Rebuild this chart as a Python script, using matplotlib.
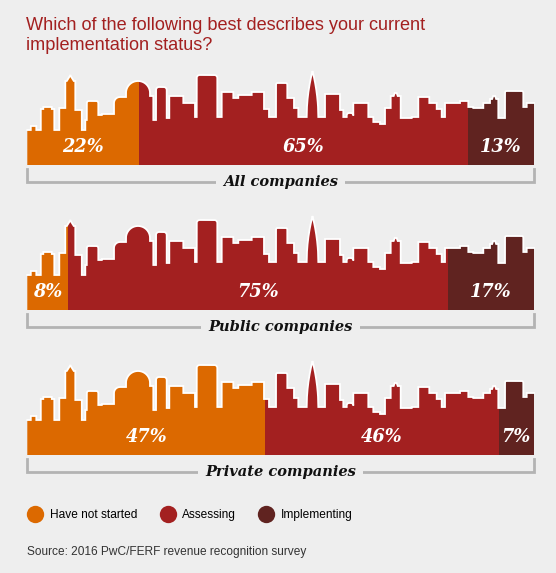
"""Implementation status skyline infographic (PwC/FERF survey)."""
import numpy as np
import matplotlib
matplotlib.use("Agg")
import matplotlib.pyplot as plt
from matplotlib.patches import Polygon, Rectangle
from matplotlib.lines import Line2D

# ---- data -------------------------------------------------------------
GROUPS = ["All companies", "Public companies", "Private companies"]
STATUSES = ["Have not started", "Assessing", "Implementing"]
HAVE_NOT_STARTED = [22, 8, 47]
ASSESSING = [65, 75, 46]
IMPLEMENTING = [13, 17, 7]

TITLE = "Which of the following best describes your current\nimplementation status?"
SOURCE = "Source: 2016 PwC/FERF revenue recognition survey"

COLORS = ["#DC6900", "#A32020", "#602320"]
BG = "#EEEEEE"

# skyline silhouette (decoration): (x0, x1, height[, kind, top]) in px
SKYLINE = [
    (0, 3.5, 35), (3.5, 9, 39), (9, 13.5, 35), (13.5, 16, 56), (16, 24.5, 58),
    (24.5, 27, 56), (27, 32, 35), (32, 38, 57), (38, 48, 84, "tower", 90),
    (48, 54.5, 55), (54.5, 58, 35), (58, 59.5, 45), (59.5, 71, 64, "round", 2),
    (71, 74.5, 50), (74.5, 86.7, 51), (86.7, 98.7, 68, "lround", 6),
    (98.7, 122.7, 72, "dome", 84), (122.7, 126, 69), (126, 128.7, 45),
    (128.7, 139.4, 78, "round", 3), (139.4, 142, 47), (142, 156, 69),
    (156, 167.7, 62), (167.7, 169.4, 48), (169.4, 190, 90, "round", 3),
    (190, 194.4, 48), (194.4, 206, 73), (206, 211, 67), (211, 224.4, 70),
    (224.4, 236.7, 73), (236.7, 241.7, 56), (241.7, 248.7, 48),
    (248.7, 260, 82, "round", 1.5), (260, 266.7, 67), (266.7, 271, 57),
    (271, 279.4, 48), (279.4, 291, 48, "spire", 94), (291, 297.7, 48),
    (297.7, 312.7, 71), (312.7, 316, 55), (316, 319.4, 48),
    (319.4, 326, 52, "round", 2.5), (326, 341, 62), (341, 346, 48),
    (346, 352.7, 43), (352.7, 357.7, 41), (357.7, 363.4, 57),
    (363.4, 373.4, 69, "peak", 72), (373.4, 384.4, 47), (384.4, 391, 48),
    (391, 402, 68), (402, 409.4, 62), (409.4, 414.4, 56), (414.4, 417.7, 48),
    (417.7, 432.7, 62), (432.7, 441, 64), (441, 446, 58), (446, 456, 57),
    (456, 462.7, 62), (462.7, 471, 66, "peak", 69), (471, 477.7, 47),
    (477.7, 496, 74, "round", 1.5), (496, 499.4, 58), (499.4, 506.7, 62),
]
SKY_WIDTH = 506.7

# ---- layout (pixels) ----------------------------------------------------
W, H = 556, 573
BAND_LEFT, BAND_RIGHT = 27.3, 534.0
ROW_BASES = [165, 310, 455]


def skyline_profile(left, width):
    s = width / SKY_WIDTH
    xs, hs = [], []
    for step in SKYLINE:
        x0, x1, h = step[:3]
        kind = step[3] if len(step) > 3 else "flat"
        if kind == "flat":
            px, ph = [x0, x1], [h, h]
        elif kind in ("round", "lround"):
            r = step[4]
            a = np.linspace(np.pi, np.pi / 2, 8)
            px = list(x0 + r + r * np.cos(a))
            ph = list(h - r + r * np.sin(a))
            if kind == "round":
                a = np.linspace(np.pi / 2, 0, 8)
                px += list(x1 - r + r * np.cos(a))
                ph += list(h - r + r * np.sin(a))
            else:
                px += [x1]
                ph += [h]
            px = [x0] + px
            ph = [h - r] + ph
        elif kind == "dome":
            top = step[4]
            a = np.linspace(np.pi, 0, 30)
            c, rx = (x0 + x1) / 2, (x1 - x0) / 2
            px = [x0] + list(c + rx * np.cos(a)) + [x1]
            ph = [h] + list(h + (top - h) * np.sin(a)) + [h]
        elif kind == "spire":
            top = step[4]
            t = np.linspace(-1, 1, 41)
            px = list((x0 + x1) / 2 + t * (x1 - x0) / 2)
            ph = list(h + (top - h) * (1 - np.abs(t)) ** 0.5)
        elif kind == "tower":
            top = step[4]
            c = (x0 + x1) / 2
            px = [x0, x0 + 1.5, c - 1, c, c + 1, x1 - 1.5, x1]
            ph = [h, h, top - 2, top, top - 2, h, h]
        elif kind == "peak":
            top = step[4]
            c = (x0 + x1) / 2
            px = [x0, c - 2, c - 1, c + 1, c + 2, x1]
            ph = [h, h, top, top, h, h]
        xs += px
        hs += ph
    return left + np.array(xs) * s, np.array(hs)


fig = plt.figure(figsize=(W / 100, H / 100), dpi=100, facecolor=BG)
ax = fig.add_axes([0, 0, 1, 1])
ax.set_xlim(0, W)
ax.set_ylim(H, 0)
ax.set_facecolor(BG)
ax.axis("off")

ax.text(26, 17, TITLE, color="#A32020", fontsize=13.1, family="Liberation Sans",
        va="top", ha="left", linespacing=1.2)

band_w = BAND_RIGHT - BAND_LEFT
values = np.array([HAVE_NOT_STARTED, ASSESSING, IMPLEMENTING]).T

for group, vals, base in zip(GROUPS, values, ROW_BASES):
    px, ph = skyline_profile(BAND_LEFT, band_w)
    py = base - ph
    verts = np.column_stack([np.r_[px[0], px, px[-1]], np.r_[base, py, base]])
    edges = BAND_LEFT + np.r_[0, np.cumsum(vals)] / 100 * band_w
    for i, (v, color) in enumerate(zip(vals, COLORS)):
        x0, x1 = edges[i], edges[i + 1]
        poly = Polygon(verts, closed=True, facecolor=color, edgecolor="none", zorder=2)
        ax.add_patch(poly)
        clip = Rectangle((x0, base - 120), x1 - x0, 120, transform=ax.transData)
        poly.set_clip_path(clip)
        ax.text((x0 + x1) / 2, base - 18, f"{v}%", color="white", fontsize=12.8,
                family="DejaVu Serif", style="italic", weight="bold",
                ha="center", va="center", zorder=4)
    ax.plot(px, py, color="white", lw=1.3, zorder=3, solid_joinstyle="miter")

    # bracket under the row
    yb = base + 17
    ax.plot([BAND_LEFT - 0.5, BAND_LEFT - 0.5, BAND_RIGHT, BAND_RIGHT],
            [base + 4, yb, yb, base + 4], color="#B3B3B3", lw=2, zorder=2,
            solid_joinstyle="miter")
    ax.text((BAND_LEFT + BAND_RIGHT) / 2, yb, group, fontsize=10.5,
            family="DejaVu Serif", style="italic", weight="bold", color="#111111",
            ha="center", va="center", zorder=4,
            bbox=dict(facecolor=BG, edgecolor="none", pad=5))

handles = [Line2D([], [], marker="o", ls="none", markersize=12.5,
                  markerfacecolor=c, markeredgecolor="none") for c in COLORS]
fig.legend(handles, STATUSES, loc="center left", bbox_to_anchor=(27 / W, 1 - 515 / H),
           ncol=3, frameon=False, handlelength=1.4, handletextpad=0.55,
           columnspacing=1.8, borderpad=0, borderaxespad=0,
           prop={"family": "Liberation Sans", "size": 8.6})

ax.text(27, 552, SOURCE, fontsize=8.6, family="Liberation Sans", color="#333333",
        ha="left", va="center")

fig.savefig("out.png", dpi=100, facecolor=BG)
